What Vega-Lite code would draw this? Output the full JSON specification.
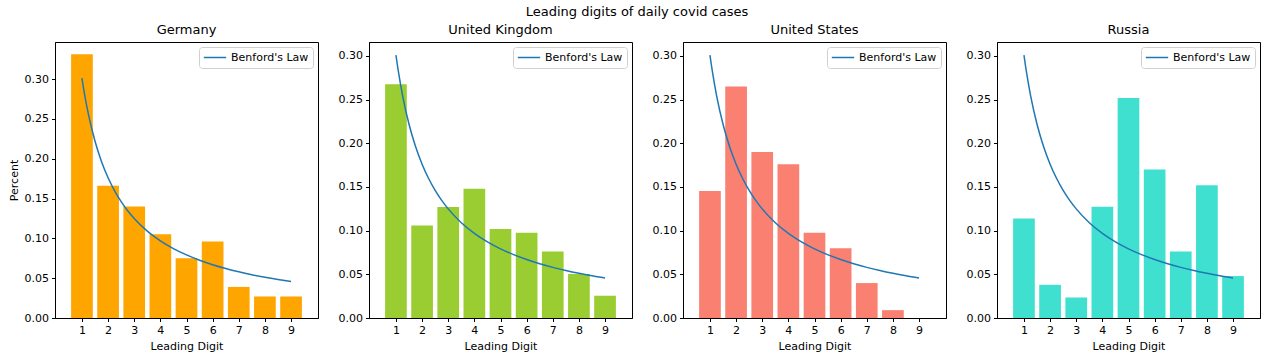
{
  "$schema": "https://vega.github.io/schema/vega-lite/v6.json",
  "background": "white",
  "padding": {"left": 7, "top": 5, "right": 5, "bottom": 5},
  "title": {"text": "Leading digits of daily covid cases", "anchor": "middle", "fontSize": 13, "fontWeight": "normal", "color": "#000", "offset": 5, "dx": 3},
  "datasets": {
    "bars": [
      {"country": "Germany", "digit": 1, "share": 0.331},
      {"country": "Germany", "digit": 2, "share": 0.166},
      {"country": "Germany", "digit": 3, "share": 0.140},
      {"country": "Germany", "digit": 4, "share": 0.105},
      {"country": "Germany", "digit": 5, "share": 0.075},
      {"country": "Germany", "digit": 6, "share": 0.096},
      {"country": "Germany", "digit": 7, "share": 0.039},
      {"country": "Germany", "digit": 8, "share": 0.027},
      {"country": "Germany", "digit": 9, "share": 0.027},
      {"country": "United Kingdom", "digit": 1, "share": 0.2675},
      {"country": "United Kingdom", "digit": 2, "share": 0.106},
      {"country": "United Kingdom", "digit": 3, "share": 0.127},
      {"country": "United Kingdom", "digit": 4, "share": 0.148},
      {"country": "United Kingdom", "digit": 5, "share": 0.102},
      {"country": "United Kingdom", "digit": 6, "share": 0.0975},
      {"country": "United Kingdom", "digit": 7, "share": 0.076},
      {"country": "United Kingdom", "digit": 8, "share": 0.0505},
      {"country": "United Kingdom", "digit": 9, "share": 0.0255},
      {"country": "United States", "digit": 1, "share": 0.1455},
      {"country": "United States", "digit": 2, "share": 0.265},
      {"country": "United States", "digit": 3, "share": 0.190},
      {"country": "United States", "digit": 4, "share": 0.176},
      {"country": "United States", "digit": 5, "share": 0.0975},
      {"country": "United States", "digit": 6, "share": 0.080},
      {"country": "United States", "digit": 7, "share": 0.040},
      {"country": "United States", "digit": 8, "share": 0.009},
      {"country": "United States", "digit": 9, "share": 0.0},
      {"country": "Russia", "digit": 1, "share": 0.114},
      {"country": "Russia", "digit": 2, "share": 0.038},
      {"country": "Russia", "digit": 3, "share": 0.0235},
      {"country": "Russia", "digit": 4, "share": 0.1275},
      {"country": "Russia", "digit": 5, "share": 0.252},
      {"country": "Russia", "digit": 6, "share": 0.170},
      {"country": "Russia", "digit": 7, "share": 0.076},
      {"country": "Russia", "digit": 8, "share": 0.152},
      {"country": "Russia", "digit": 9, "share": 0.048}
    ],
    "benford": [
      {"x": 1.0, "p": 0.30103},
      {"x": 1.05, "p": 0.29054},
      {"x": 1.1, "p": 0.28081},
      {"x": 1.25, "p": 0.25527},
      {"x": 1.5, "p": 0.22185},
      {"x": 1.75, "p": 0.19629},
      {"x": 2.0, "p": 0.17609},
      {"x": 2.25, "p": 0.15970},
      {"x": 2.5, "p": 0.14613},
      {"x": 2.75, "p": 0.13470},
      {"x": 3.0, "p": 0.12494},
      {"x": 3.5, "p": 0.10914},
      {"x": 4.0, "p": 0.09691},
      {"x": 4.5, "p": 0.08715},
      {"x": 5.0, "p": 0.07918},
      {"x": 5.5, "p": 0.07255},
      {"x": 6.0, "p": 0.06695},
      {"x": 6.5, "p": 0.06215},
      {"x": 7.0, "p": 0.05799},
      {"x": 7.5, "p": 0.05436},
      {"x": 8.0, "p": 0.05115},
      {"x": 8.5, "p": 0.04831},
      {"x": 9.0, "p": 0.04576}
    ]
  },
  "spacing": 18,
  "resolve": {"legend": {"color": "independent"}},
  "hconcat": [
    {
      "width": 263, "height": 276,
      "title": "Germany",
      "layer": [
        {"data": {"name": "bars"}, "transform": [{"filter": "datum.country === 'Germany'"}],
         "mark": {"type": "bar", "width": 21.7, "color": "#ffa500"},
         "encoding": {
           "x": {"field": "digit", "type": "quantitative", "scale": {"domain": [0.16, 9.84], "nice": false, "zero": false}, "axis": {"values": [1,2,3,4,5,6,7,8,9], "format": "d", "title": "Leading Digit", "labelOverlap": false, "labelSeparation": 0}},
           "y": {"field": "share", "type": "quantitative", "scale": {"domain": [0, 0.3465], "nice": false}, "axis": {"values": [0,0.05,0.1,0.15,0.2,0.25,0.3], "format": ".2f", "title": "Percent", "labelOverlap": false}}
         }},
        {"data": {"name": "benford"},
         "mark": {"type": "line", "strokeWidth": 1.5, "interpolate": "monotone"},
         "encoding": {
           "x": {"field": "x", "type": "quantitative", "axis": {"values": [1,2,3,4,5,6,7,8,9], "format": "d", "title": "Leading Digit", "labelOverlap": false, "labelSeparation": 0}},
           "y": {"field": "p", "type": "quantitative", "axis": {"values": [0,0.05,0.1,0.15,0.2,0.25,0.3], "format": ".2f", "title": "Percent", "labelOverlap": false}},
           "color": {"datum": "Benford's Law", "type": "nominal", "scale": {"range": ["#1f77b4"]}, "legend": {"orient": "top-right", "offset": 5, "title": null, "symbolType": "stroke", "symbolSize": 500, "symbolStrokeWidth": 1.5, "clipHeight": 13, "labelFontSize": 11, "labelColor": "#000", "fillColor": "white", "strokeColor": "#d0d0d0", "padding": 4, "cornerRadius": 3}}
         }}
      ]
    },
    {
      "width": 263, "height": 276,
      "title": "United Kingdom",
      "layer": [
        {"data": {"name": "bars"}, "transform": [{"filter": "datum.country === 'United Kingdom'"}],
         "mark": {"type": "bar", "width": 21.7, "color": "#9acd32"},
         "encoding": {
           "x": {"field": "digit", "type": "quantitative", "scale": {"domain": [0.16, 9.84], "nice": false, "zero": false}, "axis": {"values": [1,2,3,4,5,6,7,8,9], "format": "d", "title": "Leading Digit", "labelOverlap": false, "labelSeparation": 0}},
           "y": {"field": "share", "type": "quantitative", "scale": {"domain": [0, 0.316], "nice": false}, "axis": {"values": [0,0.05,0.1,0.15,0.2,0.25,0.3], "format": ".2f", "title": null, "labelOverlap": false}}
         }},
        {"data": {"name": "benford"},
         "mark": {"type": "line", "strokeWidth": 1.5, "interpolate": "monotone"},
         "encoding": {
           "x": {"field": "x", "type": "quantitative", "axis": {"values": [1,2,3,4,5,6,7,8,9], "format": "d", "title": "Leading Digit", "labelOverlap": false, "labelSeparation": 0}},
           "y": {"field": "p", "type": "quantitative", "axis": {"values": [0,0.05,0.1,0.15,0.2,0.25,0.3], "format": ".2f", "title": null, "labelOverlap": false}},
           "color": {"datum": "Benford's Law", "type": "nominal", "scale": {"range": ["#1f77b4"]}, "legend": {"orient": "top-right", "offset": 5, "title": null, "symbolType": "stroke", "symbolSize": 500, "symbolStrokeWidth": 1.5, "clipHeight": 13, "labelFontSize": 11, "labelColor": "#000", "fillColor": "white", "strokeColor": "#d0d0d0", "padding": 4, "cornerRadius": 3}}
         }}
      ]
    },
    {
      "width": 263, "height": 276,
      "title": "United States",
      "layer": [
        {"data": {"name": "bars"}, "transform": [{"filter": "datum.country === 'United States'"}],
         "mark": {"type": "bar", "width": 21.7, "color": "#fa8072"},
         "encoding": {
           "x": {"field": "digit", "type": "quantitative", "scale": {"domain": [0.16, 9.84], "nice": false, "zero": false}, "axis": {"values": [1,2,3,4,5,6,7,8,9], "format": "d", "title": "Leading Digit", "labelOverlap": false, "labelSeparation": 0}},
           "y": {"field": "share", "type": "quantitative", "scale": {"domain": [0, 0.316], "nice": false}, "axis": {"values": [0,0.05,0.1,0.15,0.2,0.25,0.3], "format": ".2f", "title": null, "labelOverlap": false}}
         }},
        {"data": {"name": "benford"},
         "mark": {"type": "line", "strokeWidth": 1.5, "interpolate": "monotone"},
         "encoding": {
           "x": {"field": "x", "type": "quantitative", "axis": {"values": [1,2,3,4,5,6,7,8,9], "format": "d", "title": "Leading Digit", "labelOverlap": false, "labelSeparation": 0}},
           "y": {"field": "p", "type": "quantitative", "axis": {"values": [0,0.05,0.1,0.15,0.2,0.25,0.3], "format": ".2f", "title": null, "labelOverlap": false}},
           "color": {"datum": "Benford's Law", "type": "nominal", "scale": {"range": ["#1f77b4"]}, "legend": {"orient": "top-right", "offset": 5, "title": null, "symbolType": "stroke", "symbolSize": 500, "symbolStrokeWidth": 1.5, "clipHeight": 13, "labelFontSize": 11, "labelColor": "#000", "fillColor": "white", "strokeColor": "#d0d0d0", "padding": 4, "cornerRadius": 3}}
         }}
      ]
    },
    {
      "width": 263, "height": 276,
      "title": "Russia",
      "layer": [
        {"data": {"name": "bars"}, "transform": [{"filter": "datum.country === 'Russia'"}],
         "mark": {"type": "bar", "width": 21.7, "color": "#40e0d0"},
         "encoding": {
           "x": {"field": "digit", "type": "quantitative", "scale": {"domain": [0.16, 9.84], "nice": false, "zero": false}, "axis": {"values": [1,2,3,4,5,6,7,8,9], "format": "d", "title": "Leading Digit", "labelOverlap": false, "labelSeparation": 0}},
           "y": {"field": "share", "type": "quantitative", "scale": {"domain": [0, 0.316], "nice": false}, "axis": {"values": [0,0.05,0.1,0.15,0.2,0.25,0.3], "format": ".2f", "title": null, "labelOverlap": false}}
         }},
        {"data": {"name": "benford"},
         "mark": {"type": "line", "strokeWidth": 1.5, "interpolate": "monotone"},
         "encoding": {
           "x": {"field": "x", "type": "quantitative", "axis": {"values": [1,2,3,4,5,6,7,8,9], "format": "d", "title": "Leading Digit", "labelOverlap": false, "labelSeparation": 0}},
           "y": {"field": "p", "type": "quantitative", "axis": {"values": [0,0.05,0.1,0.15,0.2,0.25,0.3], "format": ".2f", "title": null, "labelOverlap": false}},
           "color": {"datum": "Benford's Law", "type": "nominal", "scale": {"range": ["#1f77b4"]}, "legend": {"orient": "top-right", "offset": 5, "title": null, "symbolType": "stroke", "symbolSize": 500, "symbolStrokeWidth": 1.5, "clipHeight": 13, "labelFontSize": 11, "labelColor": "#000", "fillColor": "white", "strokeColor": "#d0d0d0", "padding": 4, "cornerRadius": 3}}
         }}
      ]
    }
  ],
  "config": {
    "font": "DejaVu Sans",
    "view": {"stroke": "#000", "strokeWidth": 1},
    "title": {"fontSize": 13, "fontWeight": "normal", "color": "#000", "offset": 5},
    "axis": {"grid": false, "domainColor": "#000", "tickColor": "#000", "labelColor": "#000", "titleColor": "#000", "labelFontSize": 11, "titleFontSize": 11, "titleFontWeight": "normal", "tickSize": 3.5, "labelPadding": 3, "titlePadding": 5, "labelFlush": false, "labelOverlap": false}
  }
}
